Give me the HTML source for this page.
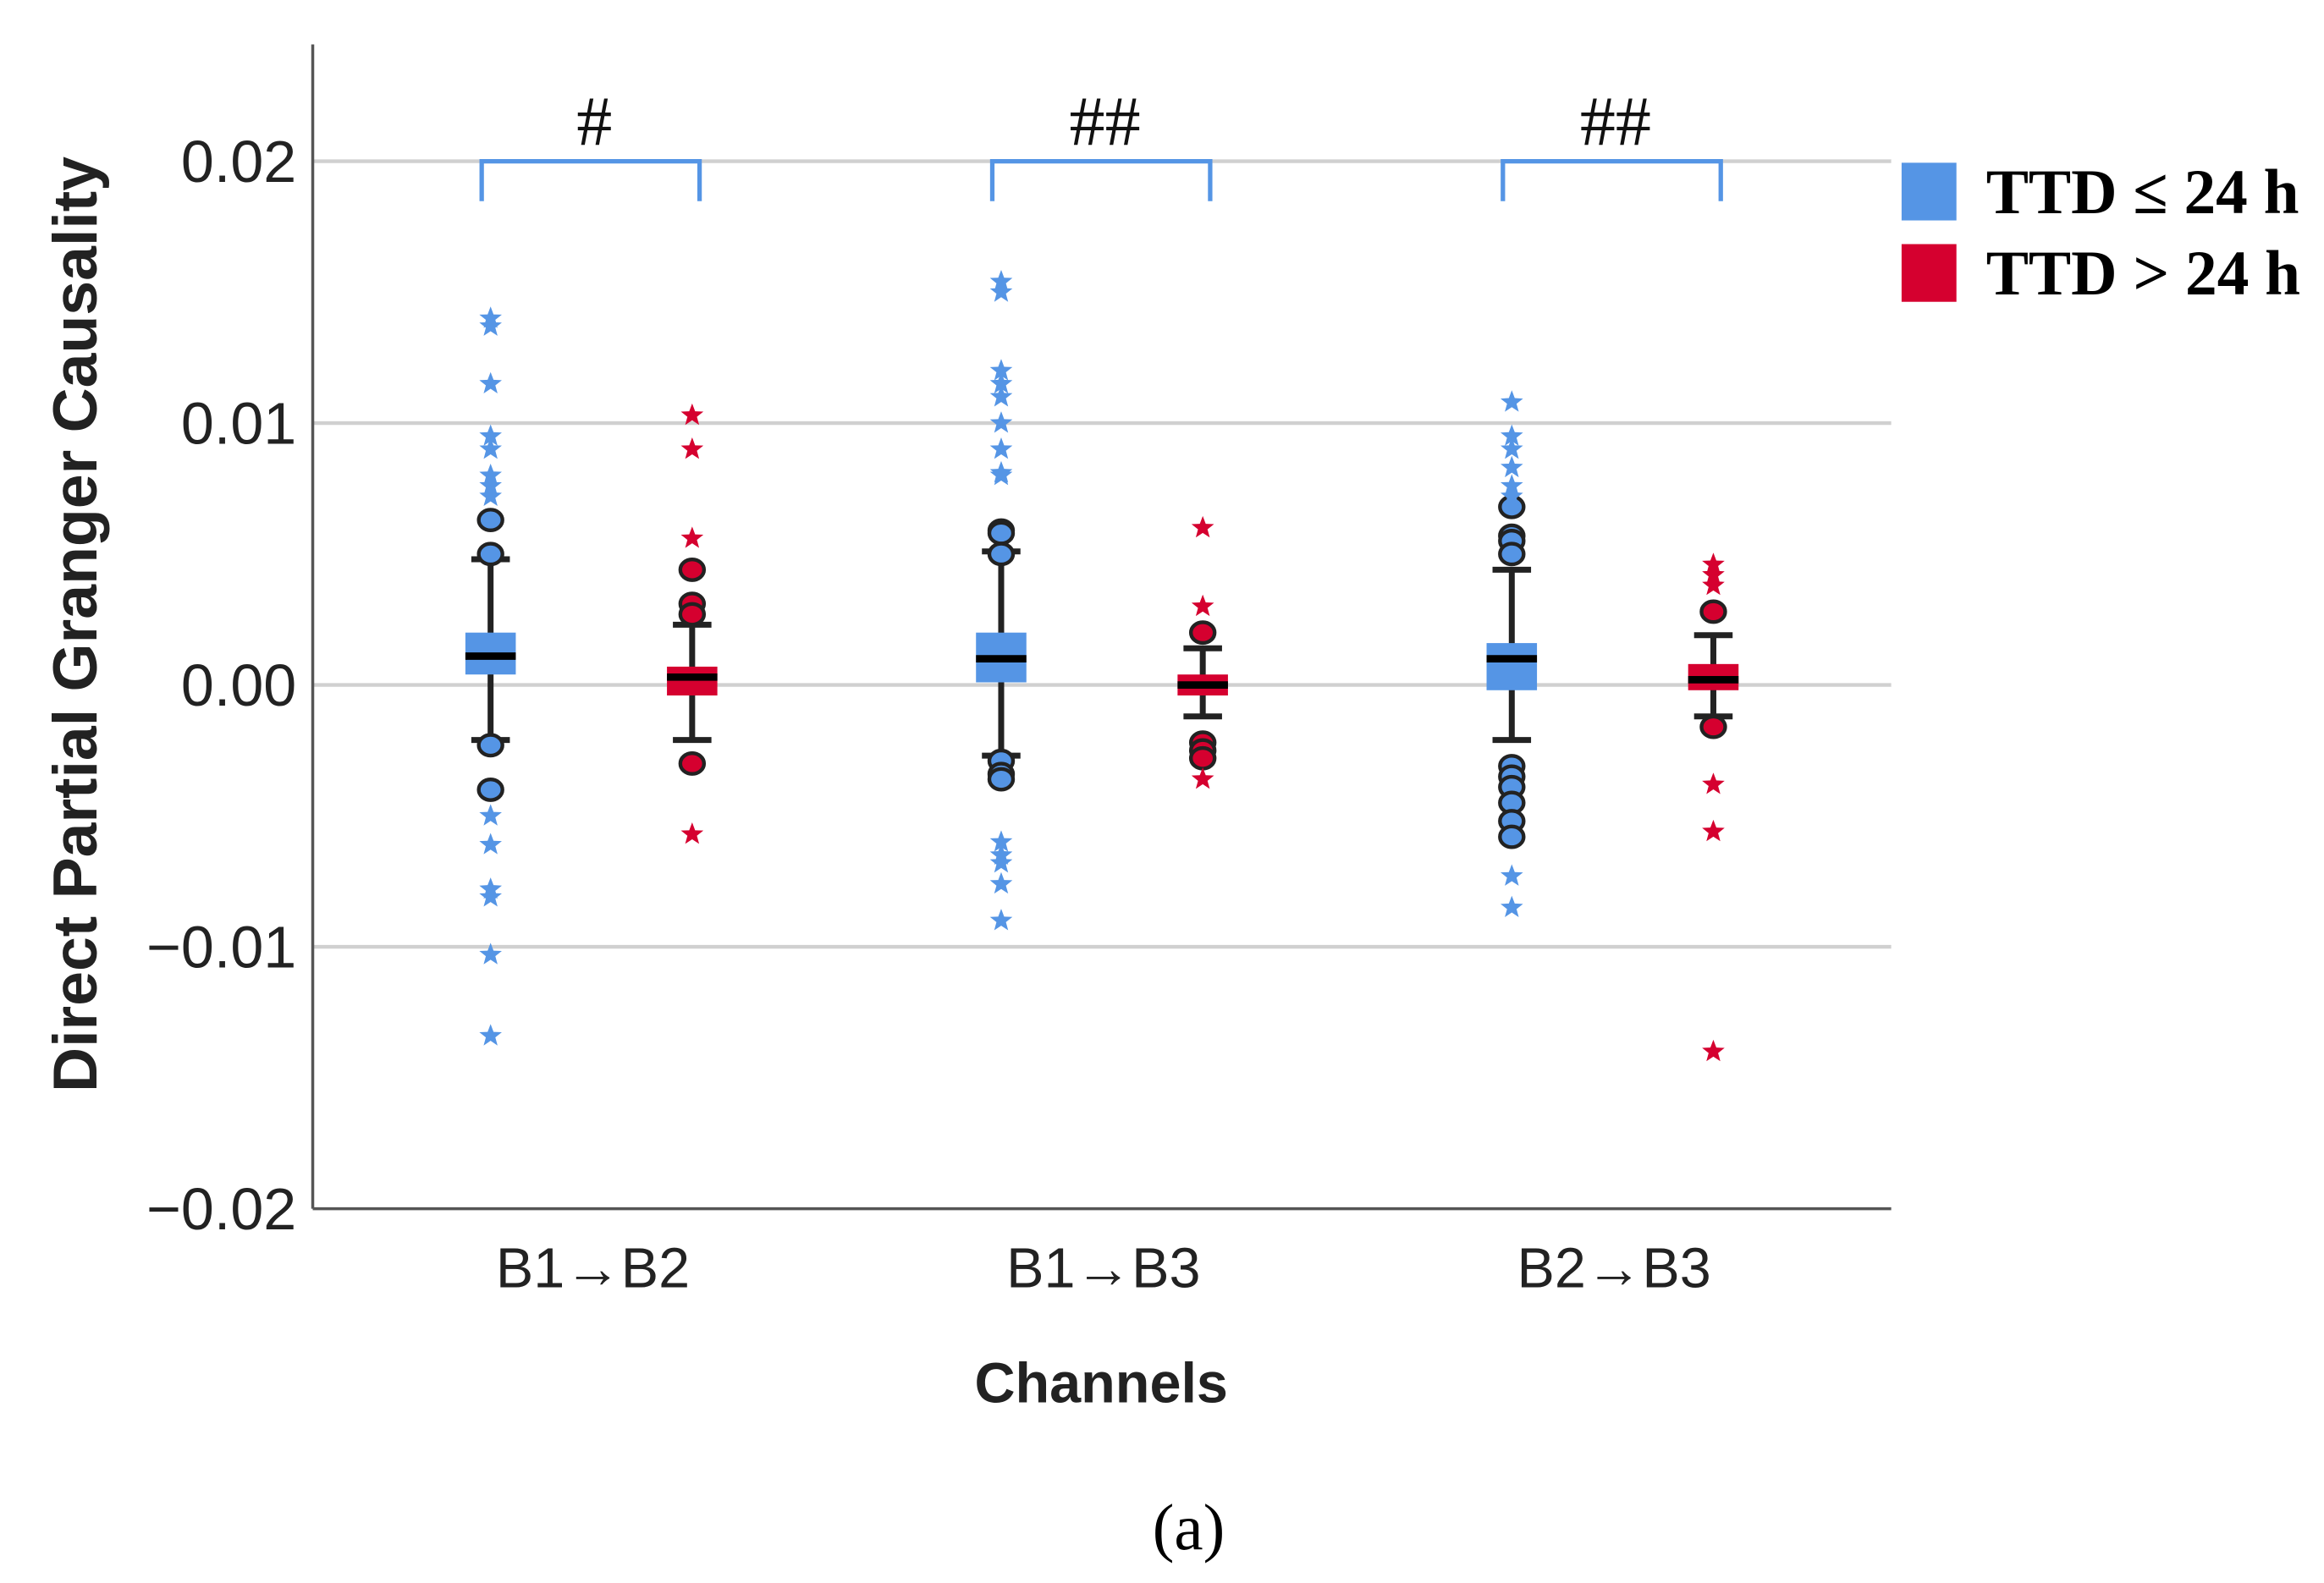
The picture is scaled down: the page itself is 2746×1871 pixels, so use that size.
<!DOCTYPE html>
<html><head><meta charset="utf-8"><style>
html,body{margin:0;padding:0;background:#fff;}
svg{display:block;}
</style></head><body>
<svg id="chart" width="2746" height="1871" viewBox="0 0 1568 1070" preserveAspectRatio="none" xmlns="http://www.w3.org/2000/svg">
<g id="grid"></g>
<g id="marks"></g>
<g id="axes"></g>
</svg>
<script>
const categories = ["B1\u2192B2", "B1\u2192B3", "B2\u2192B3"];
const yTicks = [0.02, 0.01, 0, -0.01, -0.02];
const yTickLabels = ["0.02", "0.01", "0.00", "\u22120.01", "\u22120.02"];
const sigLabels = ["#", "##", "##"];
// values in units of 0.001
const blueBox = [[-2.1,0.4,1.1,2.0,4.8],[-2.7,0.1,1.0,2.0,5.1],[-2.1,-0.2,1.0,1.6,4.4]];
const redBox = [[-2.1,-0.4,0.3,0.7,2.3],[-1.2,-0.4,0.0,0.4,1.4],[-1.2,-0.2,0.2,0.8,1.9]];
const blueCircles = [[6.3,5.0,-2.3,-4.0],[5.9,5.8,5.0,-2.9,-3.4,-3.6],[6.8,5.7,5.5,5.0,-3.1,-3.5,-3.9,-4.5,-5.2,-5.8]];
const redCircles = [[4.4,3.1,2.7,-3.0],[2.0,-2.2,-2.5,-2.8],[2.8,-1.6]];
const blueStars = [[14,13.7,11.5,9.5,9.0,8.0,7.6,7.2,-5.0,-6.1,-7.8,-8.1,-10.3,-13.4],[15.4,15.0,12.0,11.5,11.0,10.0,9.0,8.1,8.0,-6.0,-6.5,-6.8,-7.6,-9.0],[10.8,9.5,9.0,8.3,7.6,7.2,-7.3,-8.5]];
const redStars = [[10.3,9.0,5.6,-5.7],[6.0,3.0,-3.6],[4.6,4.2,3.8,-3.8,-5.6,-14.0]];

const NS="http://www.w3.org/2000/svg";
const X0=211, X1=1276, Y0=817;
function y(v){return 463 - v*17700;}
function yk(v){return y(v/1000);}
function groupX(i){return 331 + i*344.5;}
const BLUE="#5595e5", RED="#d5002f";
function mk(tag,attrs,parent){const e=document.createElementNS(NS,tag);for(const k in attrs)e.setAttribute(k,attrs[k]);parent.appendChild(e);return e;}
const grid=document.getElementById('grid'), marks=document.getElementById('marks'), axes=document.getElementById('axes');

yTicks.forEach((t,i)=>{
  if(t>-0.02){const l=mk('line',{x1:X0,x2:X1,y1:y(t),y2:y(t),stroke:'#d0d0d0','stroke-width':2.5},grid);
  
  }
  const tx=mk('text',{x:200,y:y(t)+14,'text-anchor':'end','font-family':'Liberation Sans, sans-serif','font-size':40,fill:'#222'},axes);
  tx.textContent=yTickLabels[i];
  
  
});
mk('line',{x1:X0,x2:X0,y1:30,y2:Y0,stroke:'#555','stroke-width':2},axes);
mk('line',{x1:X0,x2:X1,y1:Y0,y2:Y0,stroke:'#555','stroke-width':2},axes);

function star(cx,cy,r,color,parent){
  let pts=[];for(let k=0;k<10;k++){const a=-Math.PI/2+k*Math.PI/5;const rr=k%2?r*0.42:r;pts.push((cx+rr*Math.cos(a)).toFixed(1)+','+(cy+rr*Math.sin(a)).toFixed(1));}
  const p=mk('polygon',{points:pts.join(' '),fill:color},parent);
  
  
}
function drawBox(cx,b,color,circles,stars,name){
  const g=mk('g',{},marks);
  
  
  mk('line',{x1:cx,x2:cx,y1:yk(b[0]),y2:yk(b[4]),stroke:'#222','stroke-width':4},g);
  mk('line',{x1:cx-13,x2:cx+13,y1:yk(b[0]),y2:yk(b[0]),stroke:'#222','stroke-width':4},g);
  mk('line',{x1:cx-13,x2:cx+13,y1:yk(b[4]),y2:yk(b[4]),stroke:'#222','stroke-width':4},g);
  mk('rect',{x:cx-17,y:yk(b[3]),width:34,height:yk(b[1])-yk(b[3]),fill:color},g);
  mk('line',{x1:cx-17,x2:cx+17,y1:yk(b[2]),y2:yk(b[2]),stroke:'#000','stroke-width':5},g);
  circles.forEach(v=>{const c=mk('ellipse',{cx:cx,cy:yk(v),rx:8,ry:7,fill:color,stroke:'#222','stroke-width':2.5},g);
    
    });
  stars.forEach(v=>star(cx,yk(v),8,color,g));
}
categories.forEach((c,i)=>{
  const gx=groupX(i);
  drawBox(gx,blueBox[i],BLUE,blueCircles[i],blueStars[i],'box-blue-'+i);
  drawBox(gx+136,redBox[i],RED,redCircles[i],redStars[i],'box-red-'+i);
  const t=mk('text',{x:gx+69,y:870,'text-anchor':'middle','font-family':'Liberation Sans, sans-serif','font-size':38,fill:'#222'},axes);
  t.textContent=c;
  
  
  const br=mk('path',{d:`M${gx-6},136 L${gx-6},109 L${gx+141},109 L${gx+141},136`,fill:'none',stroke:BLUE,'stroke-width':3},axes);
  
  
  const s=mk('text',{x:gx+70,y:98,'text-anchor':'middle','font-family':'Liberation Serif, serif','font-size':48,fill:'#111'},axes);
  s.textContent=sigLabels[i];
  
  
});
const yt=mk('text',{x:0,y:0,transform:'translate(65,422) rotate(-90)','text-anchor':'middle','font-family':'Liberation Sans, sans-serif','font-size':42,'font-weight':'bold',fill:'#222'},axes);
yt.textContent='Direct Partial Granger Causality';


const xt=mk('text',{x:743,y:948,'text-anchor':'middle','font-family':'Liberation Sans, sans-serif','font-size':38,'font-weight':'bold',fill:'#222'},axes);
xt.textContent='Channels';


const cap=mk('text',{x:802,y:1047,'text-anchor':'middle','font-family':'Liberation Serif, serif','font-size':44,fill:'#000'},axes);
cap.textContent='(a)';


[['TTD \u2264 24 h',BLUE,110],['TTD > 24 h',RED,165]].forEach((e,i)=>{
  const g=mk('g',{},axes);
  
  
  mk('rect',{x:1283,y:e[2],width:37,height:39,fill:e[1]},g);
  const t=mk('text',{x:1340,y:e[2]+34,'font-family':'Liberation Serif, serif','font-size':43,'font-weight':'bold',fill:'#000'},g);
  t.textContent=e[0];
});
</script>
</body></html>
